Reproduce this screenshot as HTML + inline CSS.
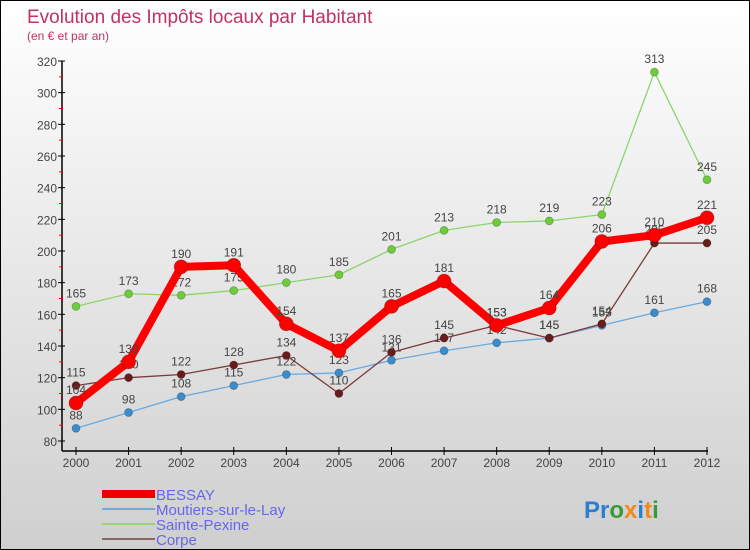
<!DOCTYPE html>
<html><head><meta charset="utf-8"><style>
body{margin:0;}
#wrap{width:750px;height:550px;position:relative;box-sizing:border-box;border:1px solid #000;background:linear-gradient(#fff,#cfcfcf);font-family:"Liberation Sans",sans-serif;overflow:hidden}
svg{position:absolute;left:0;top:0}
</style></head><body>
<div id="wrap">
<svg id="chart" width="750" height="550">
<text x="26" y="22" font-size="19" fill="#c0335f">Evolution des Impôts locaux par Habitant</text>
<text x="26" y="39" font-size="12" fill="#c0335f">(en € et par an)</text>
<line x1="61" y1="60" x2="61" y2="450" stroke="#000" stroke-width="1.5"/>
<line x1="61" y1="450" x2="707" y2="450" stroke="#000" stroke-width="1.5"/>
<g id="legend">
<rect x="101" y="489" width="53" height="8" fill="#e00"/>
<text x="155" y="499" font-size="15" fill="#6666ee">BESSAY</text>
<rect x="101" y="507" width="53" height="2" fill="#7aa8cc"/>
<text x="155" y="514" font-size="15" fill="#6666ee">Moutiers-sur-le-Lay</text>
<rect x="101" y="522" width="53" height="2" fill="#9ad47a"/>
<text x="155" y="529" font-size="15" fill="#6666ee">Sainte-Pexine</text>
<rect x="101" y="537" width="53" height="2" fill="#8c6464"/>
<text x="155" y="544" font-size="15" fill="#6666ee">Corpe</text>
</g>
<text x="583" y="517" font-size="24" font-weight="bold"><tspan fill="#2a7fd0">Pr</tspan><tspan fill="#3a9a3a">o</tspan><tspan fill="#f08a1a">x</tspan><tspan fill="#2a7fd0">i</tspan><tspan fill="#f08a1a">t</tspan><tspan fill="#3a9a3a">i</tspan></text>
</svg>
</div>
<script>
const years=[2000,2001,2002,2003,2004,2005,2006,2007,2008,2009,2010,2011,2012];
const yTicks=[80,100,120,140,160,180,200,220,240,260,280,300,320];
const bessay=[104,130,190,191,154,137,165,181,153,164,206,210,221];
const moutiers=[88,98,108,115,122,123,131,137,142,145,153,161,168];
const saintePexine=[165,173,172,175,180,185,201,213,218,219,223,313,245];
const corpe=[115,120,122,128,134,110,136,145,153,145,154,205,205];
const NS="http://www.w3.org/2000/svg";
const svg=document.getElementById('chart');
const xS=i=>75+i*(706-75)/(years.length-1);
const yS=v=>440-(v-80)*(380/240);
function mk(t,a,parent){const e=document.createElementNS(NS,t);for(const k in a)e.setAttribute(k,a[k]);(parent||svg).appendChild(e);return e;}
yTicks.forEach((v,i)=>{
 const y=yS(v);
 const tk=mk('line',{x1:57,x2:64,y1:y,y2:y,stroke:'#000'});
 
 
 const t=mk('text',{x:56,y:y+5,'font-size':12,'text-anchor':'end',fill:'#444'});
 t.textContent=v;
 
 
 if(i<yTicks.length-1){
  const m=mk('line',{x1:58,x2:62,y1:yS(v+10),y2:yS(v+10),stroke:'#f00'});
  
  
 }
});
years.forEach((yr,i)=>{
 const x=xS(i);
 const tk=mk('line',{x1:x,x2:x,y1:446,y2:454,stroke:'#000'});
 
 
 const t=mk('text',{x:x,y:466,'font-size':12,'text-anchor':'middle',fill:'#444'});
 t.textContent=yr;
 
 
});
function series(data,name,color,lw,r,dotColor){
 const g=mk('g',{});
 
 
 const p=mk('polyline',{points:data.map((v,i)=>xS(i)+','+yS(v)).join(' '),fill:'none',stroke:color,'stroke-width':lw,'stroke-linejoin':'round'},g);
 
 
 data.forEach((v,i)=>{
  const c=mk('circle',{cx:xS(i),cy:yS(v),r:r,fill:dotColor,stroke:'rgba(0,0,0,0.25)','stroke-width':0.8},g);
  
  
  const t=mk('text',{x:xS(i),y:yS(v)-9,'font-size':12,'text-anchor':'middle',fill:'#444'},g);
  t.textContent=v;
  
  
 });
}
series(saintePexine,'sainte-pexine','#8cd46a',1.3,4,'#6ccc3a');
series(moutiers,'moutiers','#6aaade',1.3,4,'#3a8ccc');
series(corpe,'corpe','#7a3a3a',1.3,4,'#6a1c1c');
series(bessay,'bessay','#f00',8,7,'#f00');
</script>
</body></html>
